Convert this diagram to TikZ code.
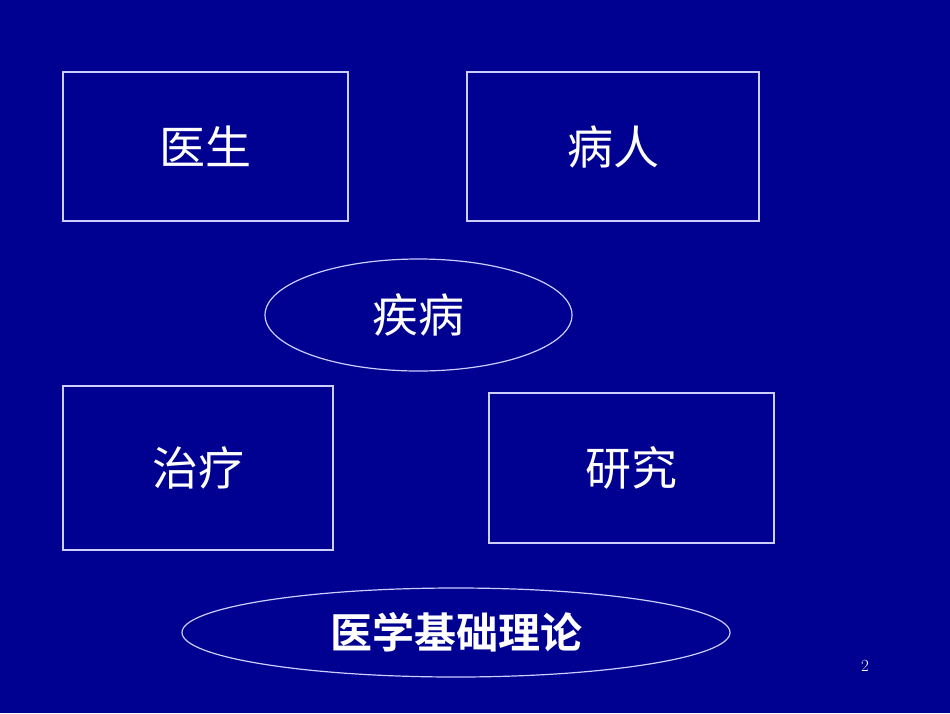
\documentclass[tikz,border=0pt]{standalone}
\usepackage{fontspec}
\newfontfamily\cjk{Noto Sans CJK SC}
\newfontfamily\cjkbold{Noto Sans CJK SC Bold}
\usetikzlibrary{shapes.geometric}
\definecolor{slidebg}{RGB}{0,0,145}
\definecolor{framecol}{RGB}{205,205,255}
\tikzset{
  topicbox/.style={draw=framecol,line width=1.2pt,rectangle,inner sep=0pt,
    text=white,font=\cjk\fontsize{46}{52}\selectfont},
  topicoval/.style={draw=framecol,line width=1.2pt,ellipse,inner sep=0pt,
    text=white,font=\cjk\fontsize{46}{52}\selectfont}
}
\begin{document}
\begin{tikzpicture}[x=1pt,y=-1pt]
\fill[slidebg] (0,0) rectangle (950,713);
\useasboundingbox (0,0) rectangle (950,713);
\node[topicbox,minimum width=285,minimum height=149] (doctor) at (205.5,146.5) {医生};
\node[topicbox,minimum width=292,minimum height=149] (patient) at (613,146.5) {病人};
\node[topicoval,minimum width=307,minimum height=112] (disease) at (418.5,315) {疾病};
\node[topicbox,minimum width=270,minimum height=164] (treat) at (198,468) {治疗};
\node[topicbox,minimum width=285,minimum height=150] (research) at (631.5,468) {研究};
\node[topicoval,minimum width=548,minimum height=89,font=\cjkbold\fontsize{42}{48}\selectfont] (theory) at (456,632.5) {医学基础理论};
\node[text=white,font=\fontsize{17}{20}\selectfont] (pagenum) at (865,666) {2};
\end{tikzpicture}
\end{document}
